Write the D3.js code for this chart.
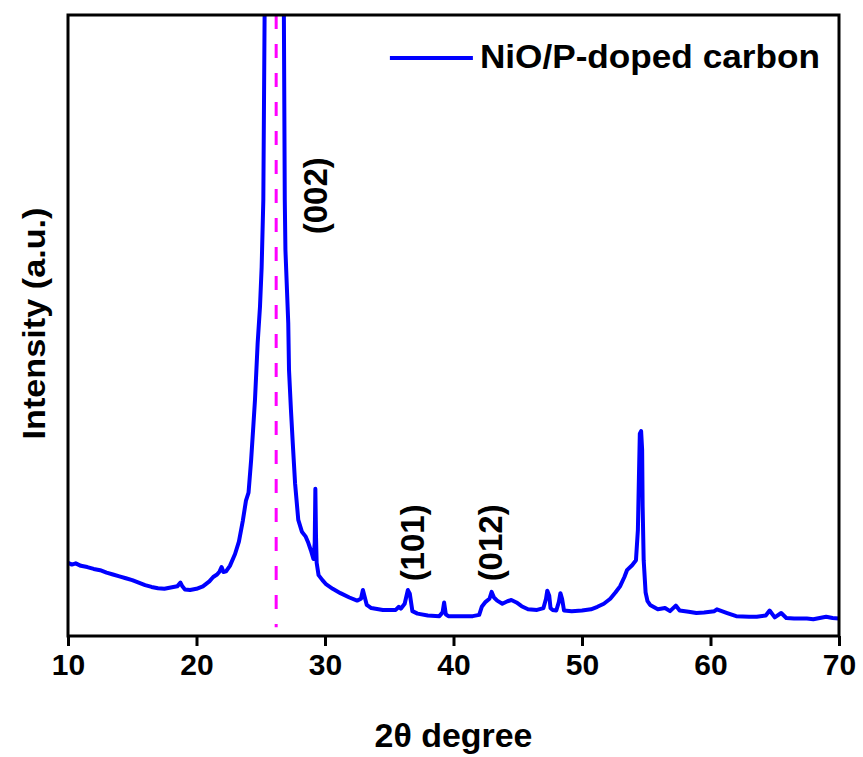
<!DOCTYPE html>
<html>
<head>
<meta charset="utf-8">
<script src="https://cdn.jsdelivr.net/npm/d3@7"></script>
<style>
    body { margin: 0; background: #fff; }
    text { font-family: "Liberation Sans", Arial, sans-serif; font-weight: bold; }
</style>
</head>
<body>
<div id="chart"></div>
<script>
// XRD pattern (2theta in degrees, intensity in a.u.)
const twoTheta = [
    10.0, 10.3, 10.6, 11.0, 11.5, 12.0, 12.5, 13.0, 13.5, 14.0, 14.5, 15.0, 15.5, 16.0, 16.5, 17.0, 17.5, 18.0,
    18.5, 18.75, 18.9, 19.1, 19.5, 20.0, 20.5, 21.0, 21.3, 21.6, 21.8, 21.95, 22.1, 22.3, 22.6, 23.0, 23.3, 23.6,
    23.85, 24.05, 24.25, 24.42, 24.55, 24.76, 24.94, 25.07, 25.2, 25.3, 25.5, 25.8, 26.1, 26.4, 26.65, 26.8,
    26.87, 26.92, 27.14, 27.2, 27.35, 27.49, 27.67, 27.92, 28.2, 28.5, 28.7, 28.9, 29.1, 29.2, 29.25, 29.3,
    29.35, 29.5, 29.8, 30.1, 30.6, 31.2, 31.9, 32.5, 32.8, 32.95, 33.1, 33.25, 33.6, 34.5, 35.5, 35.75, 35.9,
    36.2, 36.45, 36.6, 36.8, 37.2, 38.0, 38.9, 39.15, 39.27, 39.4, 39.6, 40.5, 41.5, 42.0, 42.2, 42.5, 42.8,
    42.97, 43.15, 43.4, 43.8, 44.2, 44.5, 44.9, 45.3, 45.8, 46.5, 47.0, 47.2, 47.3, 47.45, 47.55, 47.7, 48.0,
    48.2, 48.32, 48.45, 48.6, 49.2, 50.0, 50.7, 51.2, 51.7, 52.2, 52.6, 52.96, 53.3, 53.5, 53.9, 54.2, 54.35,
    54.43, 54.5, 54.6, 54.68, 54.72, 54.8, 54.95, 55.1, 55.3, 55.9, 56.46, 56.85, 57.3, 57.6, 58.3, 58.9,
    59.5, 60.3, 60.5, 61.3, 62.0, 63.0, 63.6, 64.3, 64.6, 65.0, 65.5, 65.9, 66.5, 67.5, 68.0, 69.0, 69.5, 70.0
];
const intensity = [
    118, 115, 117, 113, 111, 108, 106, 102, 99, 96, 93, 90, 86, 82, 79, 77, 76, 78,
    80, 86, 80, 75, 74, 76, 80, 88, 95, 99, 104, 111, 103, 104, 113, 132, 152, 185,
    218, 231, 283, 337, 380, 472, 530, 594, 702, 1000, 1250, 1500, 1600, 1500, 1250, 1000,
    702, 622, 504, 428, 364, 311, 246, 187, 168, 160, 150, 138, 124, 150, 237, 160,
    118, 98, 90, 83, 76, 69, 62, 57, 60, 74, 62, 50, 45, 42, 42, 47, 44,
    52, 74, 68, 40, 36, 33, 32, 38, 54, 35, 32, 32, 32, 34, 47, 55, 60,
    71, 62, 57, 52, 56, 58, 54, 48, 43, 42, 45, 60, 73, 65, 45, 42, 41,
    55, 69, 60, 41, 40, 41, 43, 47, 52, 60, 70, 80, 95, 106, 114, 122, 171,
    256, 326, 330, 300, 208, 122, 70, 56, 50, 43, 45, 40, 49, 41, 39, 37,
    38, 40, 43, 37, 32, 31, 31, 33, 41, 30, 37, 29, 28, 28, 27, 31, 29, 28
];
const xTicks = [10, 20, 30, 40, 50, 60, 70];
const seriesName = 'NiO/P-doped carbon';
const refLine = 26.2;   // graphite (002) position
const peakLabels = ['(002)', '(101)', '(012)'];
const peakPos = [29.4, 36.95, 43.0];
const peakLevel = [709, 150, 150];

class XrdChart {
    constructor(_config, _data) {
        this.config = {
            parentElement: _config.parentElement,
            containerWidth: _config.containerWidth || 863,
            containerHeight: _config.containerHeight || 757,
            margin: _config.margin || {top: 15, right: 24, bottom: 121, left: 68}
        }
        this.data = _data;

        this.InitVis();
    }

    InitVis() {
        let vis = this;

        vis.width = vis.config.containerWidth - vis.config.margin.left - vis.config.margin.right;
        vis.height = vis.config.containerHeight - vis.config.margin.top - vis.config.margin.bottom;

        vis.svg = d3.select(vis.config.parentElement).append('svg')
            .attr('width', vis.config.containerWidth)
            .attr('height', vis.config.containerHeight);

        vis.chart = vis.svg.append('g')
            .attr('transform', `translate(${vis.config.margin.left},${vis.config.margin.top})`);

        vis.xScale = d3.scaleLinear().domain([10, 70]).range([0, vis.width]);
        vis.yScale = d3.scaleLinear().domain([0, 1000]).range([vis.height, 0]);

        vis.svg.append('defs').append('clipPath')
            .attr('id', 'plot-clip')
            .append('rect')
            .attr('width', vis.width)
            .attr('height', vis.height);

        vis.line = d3.line()
            .x(d => vis.xScale(d.x))
            .y(d => vis.yScale(d.y));

        vis.UpdateVis();
    }

    UpdateVis() {
        let vis = this;
        vis.points = vis.data.x.map((x, i) => ({x: x, y: vis.data.y[i]}));
        vis.RenderVis();
    }

    RenderVis() {
        let vis = this;

        // dashed reference line
        vis.chart.append('line')
            .attr('x1', vis.xScale(refLine)).attr('x2', vis.xScale(refLine))
            .attr('y1', 0).attr('y2', vis.yScale(14))
            .attr('stroke', '#ff00ff')
            .attr('stroke-width', 3)
            .attr('stroke-dasharray', '14,15');

        vis.chart.append('path')
            .datum(vis.points)
            .attr('clip-path', 'url(#plot-clip)')
            .attr('fill', 'none')
            .attr('stroke', '#0000ff')
            .attr('stroke-width', 4)
            .attr('stroke-linejoin', 'round')
            .attr('d', vis.line);

        // x axis
        const xAxis = d3.axisBottom(vis.xScale)
            .tickValues(xTicks)
            .tickSize(10)
            .tickSizeOuter(0)
            .tickPadding(8);

        const xg = vis.chart.append('g')
            .attr('transform', `translate(0,${vis.height})`)
            .call(xAxis);
        xg.select('.domain').remove();
        xg.selectAll('.tick line').attr('stroke', '#000').attr('stroke-width', 3);
        xg.selectAll('.tick text')
            .attr('fill', '#000')
            .style('font-size', '30px')
            .style('font-family', '"Liberation Sans", Arial, sans-serif')
            .style('font-weight', 'bold');

        // frame
        vis.chart.append('rect')
            .attr('width', vis.width)
            .attr('height', vis.height)
            .attr('fill', 'none')
            .attr('stroke', '#000')
            .attr('stroke-width', 3);

        // axis titles
        vis.chart.append('text')
            .attr('x', vis.width / 2)
            .attr('y', vis.height + 111)
            .attr('text-anchor', 'middle')
            .attr('textLength', 158)
            .attr('lengthAdjust', 'spacingAndGlyphs')
            .style('font-size', '33px')
            .text('2θ degree');

        vis.svg.append('text')
            .attr('transform', `translate(45,${vis.config.margin.top + vis.height / 2 - 2}) rotate(-90)`)
            .attr('text-anchor', 'middle')
            .attr('textLength', 232)
            .attr('lengthAdjust', 'spacingAndGlyphs')
            .style('font-size', '32px')
            .text('Intensity (a.u.)');

        // peak labels
        vis.chart.selectAll('.peak-label')
            .data(peakLabels)
            .enter().append('text')
            .attr('class', 'peak-label')
            .attr('transform', (d, i) => `translate(${vis.xScale(peakPos[i]) + 10},${vis.yScale(peakLevel[i])}) rotate(-90)`)
            .attr('text-anchor', 'middle')
            .style('font-size', '33px')
            .text(d => d);

        // legend
        const legend = vis.chart.append('g').attr('transform', `translate(${vis.xScale(35.05)},43)`);
        legend.append('line')
            .attr('x1', 0).attr('x2', 83)
            .attr('stroke', '#0000ff')
            .attr('stroke-width', 4);
        legend.append('text')
            .attr('x', 90)
            .attr('y', 10)
            .attr('textLength', 340)
            .attr('lengthAdjust', 'spacingAndGlyphs')
            .style('font-size', '33px')
            .text(seriesName);
    }
}

let xrd = new XrdChart({parentElement: '#chart'}, {x: twoTheta, y: intensity});
</script>
</body>
</html>
